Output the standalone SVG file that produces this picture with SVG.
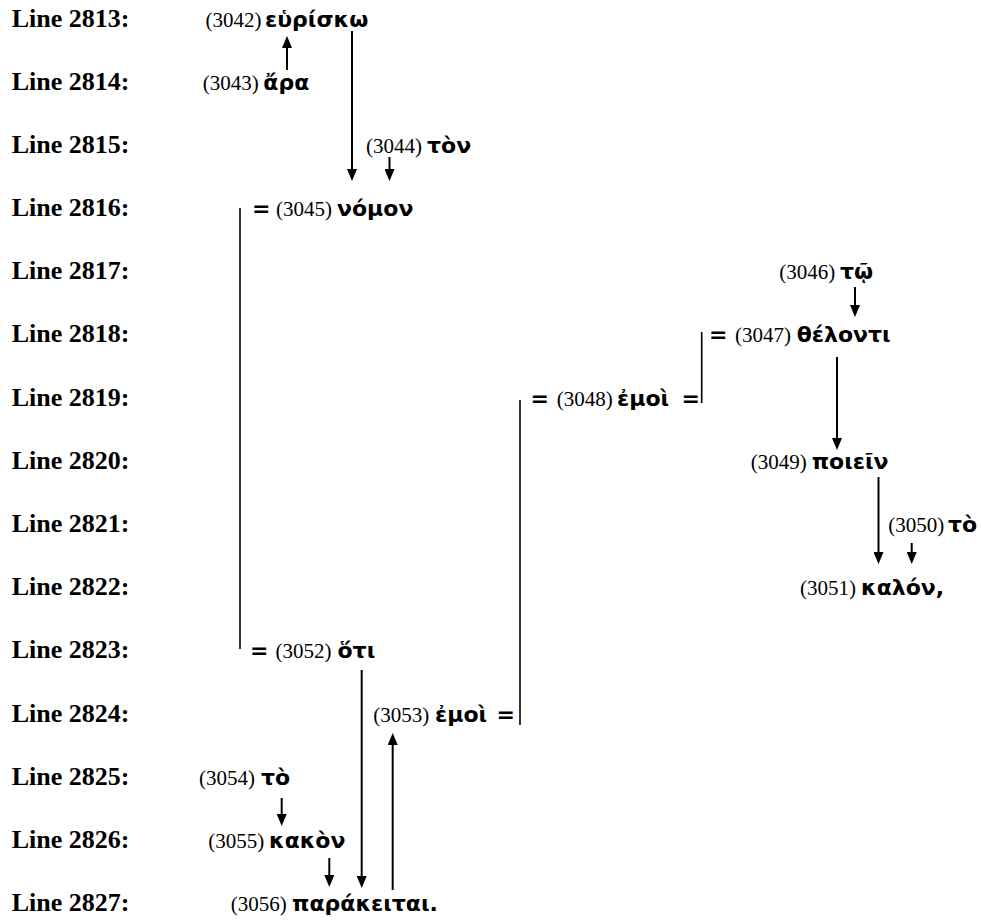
<svg xmlns="http://www.w3.org/2000/svg" width="981" height="920" viewBox="0 0 981 920">
<style>
.lbl{font-family:"Liberation Serif","Times New Roman",serif;font-weight:bold;font-size:26px;fill:#000}
.n{font-family:"Liberation Serif","Times New Roman",serif;font-size:21px;fill:#000}
.g{font-family:"DejaVu Sans","Noto Sans",sans-serif;font-weight:bold;font-size:22px;fill:#000}
.arr{stroke:#000;stroke-width:2;fill:none;marker-end:url(#ah)}
.bar{stroke:#000;stroke-width:1.6;fill:none}
</style>
<defs>
<marker id="ah" viewBox="0 0 12 10" markerWidth="12" markerHeight="10" refX="1" refY="5" orient="auto" markerUnits="userSpaceOnUse">
<path d="M0,0 L12,5 L0,10 z" fill="#000"/>
</marker>
</defs>
<rect width="981" height="920" fill="#fff"/>
<g id="line-labels">
<text class="lbl" x="11.7" y="27">Line 2813:</text>
<text class="lbl" x="11.7" y="90">Line 2814:</text>
<text class="lbl" x="11.7" y="153">Line 2815:</text>
<text class="lbl" x="11.7" y="216">Line 2816:</text>
<text class="lbl" x="11.7" y="279">Line 2817:</text>
<text class="lbl" x="11.7" y="342">Line 2818:</text>
<text class="lbl" x="11.7" y="406">Line 2819:</text>
<text class="lbl" x="11.7" y="469">Line 2820:</text>
<text class="lbl" x="11.7" y="532">Line 2821:</text>
<text class="lbl" x="11.7" y="595">Line 2822:</text>
<text class="lbl" x="11.7" y="658">Line 2823:</text>
<text class="lbl" x="11.7" y="722">Line 2824:</text>
<text class="lbl" x="11.7" y="785">Line 2825:</text>
<text class="lbl" x="11.7" y="848">Line 2826:</text>
<text class="lbl" x="11.7" y="911">Line 2827:</text>
</g>
<g id="n3042"><text y="27"><tspan class="n" x="205.5">(3042)</tspan><tspan class="g" x="265">εὑρίσκω</tspan></text></g>
<g id="n3043"><text y="90"><tspan class="n" x="202.7">(3043)</tspan><tspan class="g" x="263.3">ἄρα</tspan></text></g>
<g id="n3044"><text y="153"><tspan class="n" x="366">(3044)</tspan><tspan class="g" x="427">τὸν</tspan></text></g>
<g id="n3045"><text y="216"><tspan class="g" x="252">=</tspan><tspan class="n" x="276">(3045)</tspan><tspan class="g" x="337">νόμον</tspan></text></g>
<g id="n3046"><text y="279"><tspan class="n" x="779.3">(3046)</tspan><tspan class="g" x="840">τῷ</tspan></text></g>
<g id="n3047"><text y="342"><tspan class="g" x="709">=</tspan><tspan class="n" x="735">(3047)</tspan><tspan class="g" x="796.7">θέλοντι</tspan></text></g>
<g id="n3048"><text y="406"><tspan class="g" x="530.5">=</tspan><tspan class="n" x="556.7">(3048)</tspan><tspan class="g" x="617">ἐμοὶ</tspan><tspan class="g" x="681.5">=</tspan></text></g>
<g id="n3049"><text y="469"><tspan class="n" x="750.7">(3049)</tspan><tspan class="g" x="811.7">ποιεῖν</tspan></text></g>
<g id="n3050"><text y="532"><tspan class="n" x="888.3">(3050)</tspan><tspan class="g" x="948">τὸ</tspan></text></g>
<g id="n3051"><text y="595"><tspan class="n" x="800">(3051)</tspan><tspan class="g" x="861">καλόν,</tspan></text></g>
<g id="n3052"><text y="658"><tspan class="g" x="250">=</tspan><tspan class="n" x="275.5">(3052)</tspan><tspan class="g" x="337.5">ὅτι</tspan></text></g>
<g id="n3053"><text y="722"><tspan class="n" x="373.3">(3053)</tspan><tspan class="g" x="435">ἐμοὶ</tspan><tspan class="g" x="496.5">=</tspan></text></g>
<g id="n3054"><text y="785"><tspan class="n" x="199">(3054)</tspan><tspan class="g" x="261">τὸ</tspan></text></g>
<g id="n3055"><text y="848"><tspan class="n" x="208.3">(3055)</tspan><tspan class="g" x="269">κακὸν</tspan></text></g>
<g id="n3056"><text y="911"><tspan class="n" x="230.7">(3056)</tspan><tspan class="g" x="292">παράκειται.</tspan></text></g>
<g id="connectors">
<line class="arr" x1="287" y1="70" x2="287" y2="47"/>
<line class="arr" x1="352" y1="31" x2="352" y2="170"/>
<line class="arr" x1="389.5" y1="157" x2="389.5" y2="170"/>
<line class="arr" x1="855" y1="287" x2="855" y2="306"/>
<line class="arr" x1="837" y1="357" x2="837" y2="439"/>
<line class="arr" x1="878.5" y1="477" x2="878.5" y2="553"/>
<line class="arr" x1="911.7" y1="543" x2="911.7" y2="553"/>
<line class="arr" x1="361.7" y1="670" x2="361.7" y2="877"/>
<line class="arr" x1="392.7" y1="890" x2="392.7" y2="744"/>
<line class="arr" x1="281.7" y1="798" x2="281.7" y2="815"/>
<line class="arr" x1="329.3" y1="858" x2="329.3" y2="876"/>
<line class="bar" x1="240" y1="208" x2="240" y2="649"/>
<line class="bar" x1="520" y1="400" x2="520" y2="725"/>
<line class="bar" x1="701.7" y1="332" x2="701.7" y2="403"/>
</g>
</svg>
